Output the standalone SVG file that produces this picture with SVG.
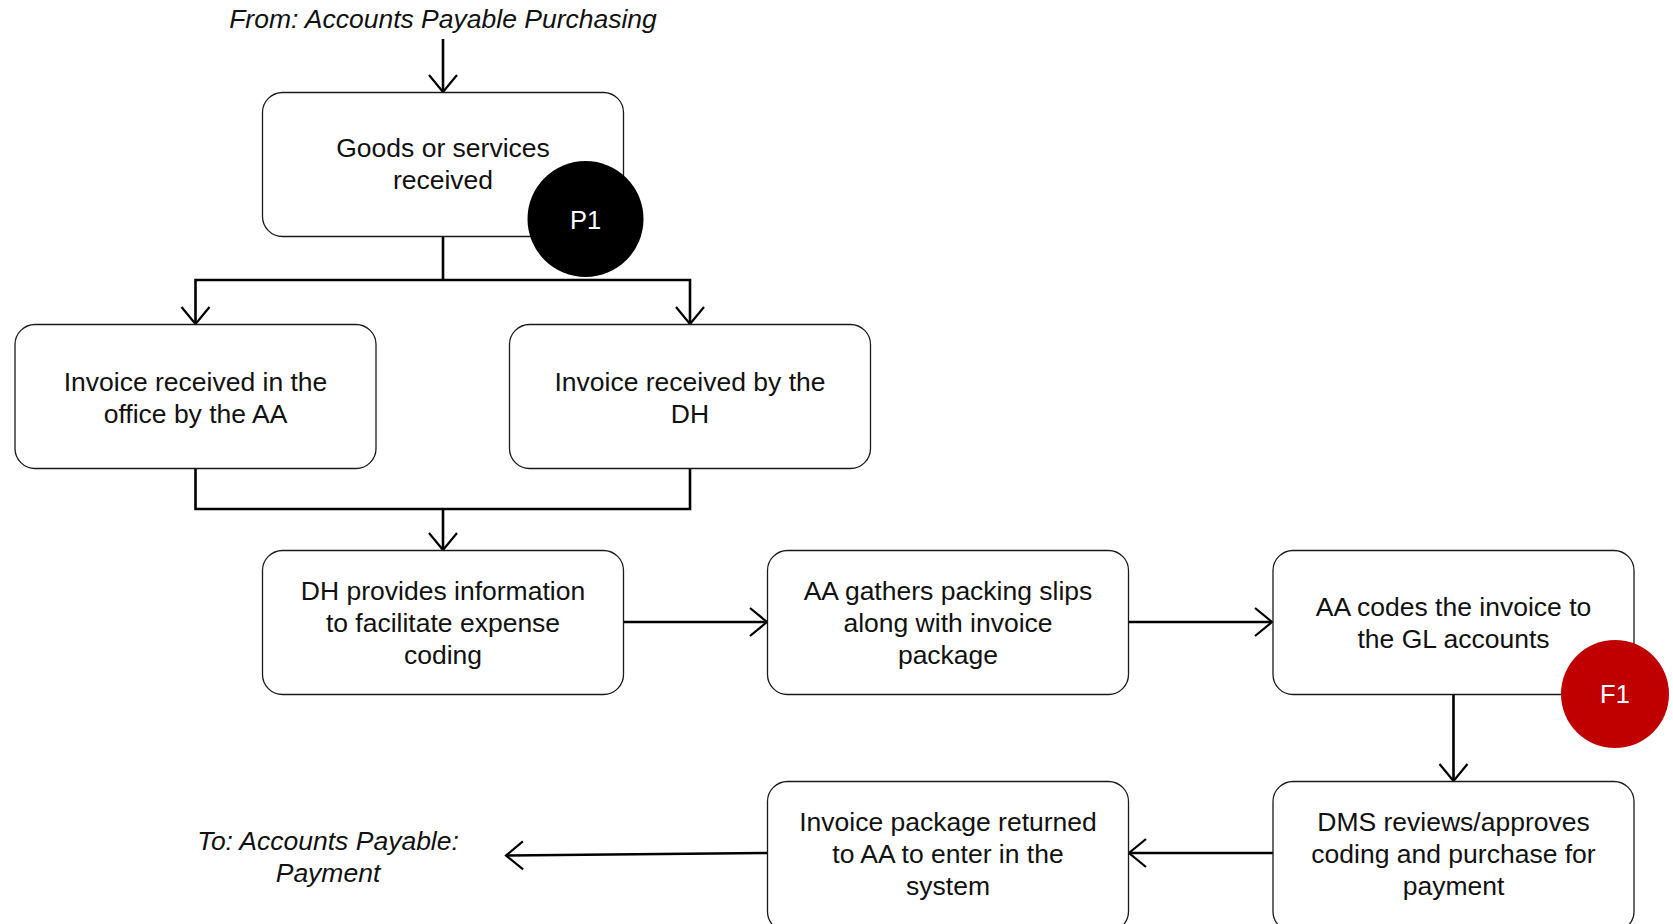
<svg xmlns="http://www.w3.org/2000/svg" width="1673" height="924" viewBox="0 0 1673 924">
  <style>
    .box { fill: #ffffff; stroke: #1a1a1a; stroke-width: 1.3; }
    .lbl { font-family: "Liberation Sans", Arial, sans-serif; font-size: 26.5px; fill: #111111; text-anchor: middle; }
    .ext { font-style: italic; }
    .wire { fill: none; stroke: #000000; stroke-width: 2.6; }
    .badge-txt { font-family: "Liberation Sans", Arial, sans-serif; font-size: 25.5px; fill: #ffffff; text-anchor: middle; }
  </style>
  <defs>
    <marker id="open-arrow" markerUnits="userSpaceOnUse" markerWidth="40" markerHeight="40" viewBox="-20 -20 40 40" refX="0" refY="0" orient="auto">
      <path d="M -17 -14 L 0 0 L -17 14" fill="none" stroke="#000000" stroke-width="2.2"/>
    </marker>
  </defs>

  <rect width="1673" height="924" fill="#ffffff"/>

  <!-- entry / exit labels -->
  <text id="from-label" class="lbl ext" x="443" y="28">From: Accounts Payable Purchasing</text>
  <text id="to-label" class="lbl ext" x="328"><tspan x="328" y="850">To: Accounts Payable:</tspan><tspan x="328" y="882">Payment</tspan></text>

  <!-- connectors -->
  <g id="connectors">
    <path class="wire" d="M443 39 V92" marker-end="url(#open-arrow)"/>
    <path class="wire" d="M443 236 V280"/>
    <path class="wire" d="M443 280 H195.5 V324" marker-end="url(#open-arrow)"/>
    <path class="wire" d="M443 280 H690 V324" marker-end="url(#open-arrow)"/>
    <path class="wire" d="M195.5 468 V509 H690 V468"/>
    <path class="wire" d="M443 509 V550" marker-end="url(#open-arrow)"/>
    <path class="wire" d="M623 622 H767" marker-end="url(#open-arrow)"/>
    <path class="wire" d="M1128 622 H1272" marker-end="url(#open-arrow)"/>
    <path class="wire" d="M1453.5 694 V781" marker-end="url(#open-arrow)"/>
    <path class="wire" d="M1273 853 H1129" marker-end="url(#open-arrow)"/>
    <path class="wire" d="M767 853 L506 855.5" marker-end="url(#open-arrow)"/>
  </g>

  <!-- process steps -->
  <g id="goods-received">
    <rect class="box" x="262.5" y="92.5" width="361" height="144" rx="20"/>
    <text class="lbl"><tspan x="443" y="157">Goods or services</tspan><tspan x="443" y="189">received</tspan></text>
  </g>

  <g id="badge-p1">
    <circle cx="585.5" cy="219" r="58" fill="#000000"/>
    <text class="badge-txt" x="585.5" y="228.5">P1</text>
  </g>

  <g id="invoice-aa">
    <rect class="box" x="15" y="324.5" width="361" height="144" rx="20"/>
    <text class="lbl"><tspan x="195.5" y="391">Invoice received in the</tspan><tspan x="195.5" y="423">office by the AA</tspan></text>
  </g>

  <g id="invoice-dh">
    <rect class="box" x="509.5" y="324.5" width="361" height="144" rx="20"/>
    <text class="lbl"><tspan x="690" y="391">Invoice received by the</tspan><tspan x="690" y="423">DH</tspan></text>
  </g>

  <g id="dh-info">
    <rect class="box" x="262.5" y="550.5" width="361" height="144" rx="20"/>
    <text class="lbl"><tspan x="443" y="600">DH provides information</tspan><tspan x="443" y="632">to facilitate expense</tspan><tspan x="443" y="664">coding</tspan></text>
  </g>

  <g id="aa-gathers">
    <rect class="box" x="767.5" y="550.5" width="361" height="144" rx="20"/>
    <text class="lbl"><tspan x="948" y="600">AA gathers packing slips</tspan><tspan x="948" y="632">along with invoice</tspan><tspan x="948" y="664">package</tspan></text>
  </g>

  <g id="aa-codes">
    <rect class="box" x="1273" y="550.5" width="361" height="144" rx="20"/>
    <text class="lbl"><tspan x="1453.5" y="616">AA codes the invoice to</tspan><tspan x="1453.5" y="648">the GL accounts</tspan></text>
  </g>

  <g id="badge-f1">
    <circle cx="1615" cy="694" r="54" fill="#c00000"/>
    <text class="badge-txt" x="1615" y="703">F1</text>
  </g>

  <g id="dms-review">
    <rect class="box" x="1273" y="781.5" width="361" height="150" rx="20"/>
    <text class="lbl"><tspan x="1453.5" y="831">DMS reviews/approves</tspan><tspan x="1453.5" y="863">coding and purchase for</tspan><tspan x="1453.5" y="895">payment</tspan></text>
  </g>

  <g id="invoice-returned">
    <rect class="box" x="767.5" y="781.5" width="361" height="150" rx="20"/>
    <text class="lbl"><tspan x="948" y="831">Invoice package returned</tspan><tspan x="948" y="863">to AA to enter in the</tspan><tspan x="948" y="895">system</tspan></text>
  </g>
</svg>
